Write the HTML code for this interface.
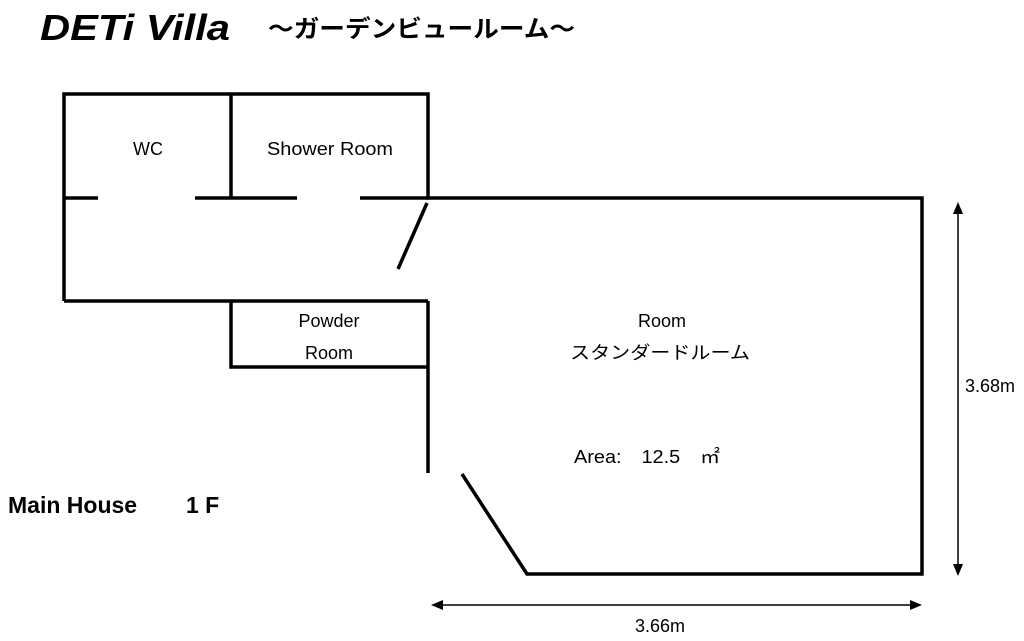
<!DOCTYPE html>
<html><head><meta charset="utf-8"><style>
body{margin:0;background:#fff;width:1024px;height:641px;overflow:hidden}
svg{display:block}
text{font-family:"Liberation Sans","Noto Sans CJK JP",sans-serif;fill:#000}
</style></head><body>
<svg width="1024" height="641" viewBox="0 0 1024 641">
<text x="40" y="40" font-size="36" font-weight="bold" font-style="italic" textLength="190" lengthAdjust="spacingAndGlyphs">DETi Villa</text>
<text x="268" y="37" font-size="24" font-weight="bold" textLength="307" lengthAdjust="spacingAndGlyphs">～ガーデンビュールーム～</text>
<g stroke="#000" stroke-width="3.5" fill="none" stroke-linecap="butt">
<polyline points="64,301 64,94 428,94 428,198 922,198 922,574 527,574 462,474"/>
<line x1="231" y1="94" x2="231" y2="198"/>
<line x1="64" y1="198" x2="98" y2="198"/>
<line x1="195" y1="198" x2="297" y2="198"/>
<line x1="360" y1="198" x2="428" y2="198"/>
<line x1="427" y1="203" x2="398" y2="269"/>
<line x1="64" y1="301" x2="428" y2="301"/>
<line x1="428" y1="301" x2="428" y2="473"/>
<polyline points="231,301 231,367 428,367"/>
<line x1="958" y1="210" x2="958" y2="566" stroke-width="1.5"/>
<line x1="440" y1="605" x2="912" y2="605" stroke-width="1.5"/>
</g>
<polygon points="958,202 953,214 963,214"/>
<polygon points="958,576 953,564 963,564"/>
<polygon points="431,605 443,600 443,610"/>
<polygon points="922,605 910,600 910,610"/>
<g font-size="18" text-anchor="middle">
<text x="148" y="155">WC</text>
<text x="330" y="155" textLength="126" lengthAdjust="spacingAndGlyphs">Shower Room</text>
<text x="329" y="327">Powder</text>
<text x="329" y="359">Room</text>
<text x="662" y="327">Room</text>
<text x="660" y="359" textLength="180" lengthAdjust="spacingAndGlyphs">スタンダードルーム</text>
<text x="647" y="463" textLength="146" lengthAdjust="spacingAndGlyphs">Area:　12.5　㎡</text>
<text x="990" y="392">3.68m</text>
<text x="660" y="632">3.66m</text>
</g>
<text x="8" y="513" font-size="23" font-weight="bold">Main House</text>
<text x="186" y="513" font-size="23" font-weight="bold">1 F</text>
</svg>
</body></html>
